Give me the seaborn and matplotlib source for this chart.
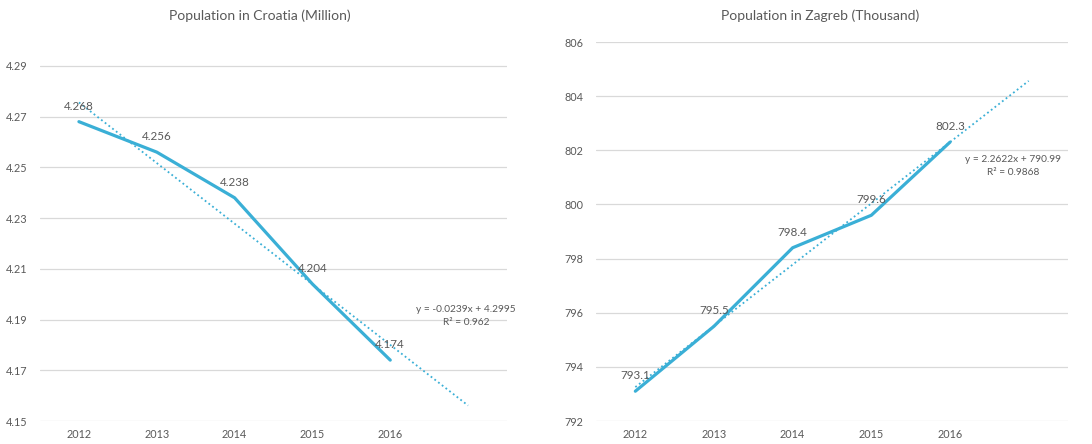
import numpy as np
import pandas as pd
import matplotlib
matplotlib.use('Agg')
import matplotlib.pyplot as plt
import seaborn as sns

years = ['2012', '2013', '2014', '2015', '2016']
croatia = [4.268, 4.256, 4.238, 4.204, 4.174]
zagreb = [793.1, 795.5, 798.4, 799.6, 802.3]

# trendline coefficients as printed on the chart (x = 1..n)
croatia_trend = [-0.0239, 4.2995]
zagreb_trend = [2.2622, 790.99]
croatia_eq = 'y = -0.0239x + 4.2995\nR² = 0.962'
zagreb_eq = 'y = 2.2622x + 790.99\nR² = 0.9868'

sns.set_theme(style='white')
plt.rcParams['font.family'] = ['Lato', 'DejaVu Sans']

line_c = '#3aafd6'
text_c = '#595959'
grid_c = '#d9d9d9'

fig = plt.figure(figsize=(10.92, 4.44), dpi=100)
ax1 = fig.add_axes([40 / 1092, 1 - 421 / 444, 467 / 1092, 380.5 / 444])
ax2 = fig.add_axes([596 / 1092, 1 - 421 / 444, 472 / 1092, 379 / 444])


def draw(ax, vals, trend, eq, title, ylim, yticks, fmt, title_x, eq_xy):
    df = pd.DataFrame({'i': np.arange(len(vals)), 'v': vals})
    sns.lineplot(data=df, x='i', y='v', ax=ax, color=line_c, lw=2.3, zorder=3)

    # forecast forward one period
    k, b = trend
    tx = np.array([0, len(vals)])
    ax.plot(tx, k * (tx + 1) + b, color=line_c, lw=1.3, ls=(0, (1, 1.6)), zorder=2)

    for i, v in enumerate(vals):
        ax.annotate(fmt.format(v), (i, v), xytext=(0, 11), textcoords='offset points',
                    ha='center', va='center', fontsize=8.4, color=text_c, zorder=4)

    ax.text(eq_xy[0], eq_xy[1], eq, transform=fig.transFigure, ha='center',
            va='center', fontsize=7.3, color=text_c, linespacing=1.45)

    ax.set_xlim(-0.5, 5.5)
    ax.set_ylim(*ylim)
    ax.set_xticks(range(len(years)))
    ax.set_xticklabels(years)
    ax.set_yticks(yticks)
    ax.set_yticklabels([f'{t:g}' if t > 100 else f'{t:.2f}' for t in yticks])
    ax.tick_params(axis='both', length=0, labelsize=7.8, colors=text_c)
    ax.tick_params(axis='y', pad=9)
    ax.tick_params(axis='x', pad=6)
    ax.grid(axis='y', color=grid_c, lw=0.9)
    ax.set_axisbelow(True)
    ax.set_xlabel('')
    ax.set_ylabel('')
    sns.despine(ax=ax, left=True, bottom=True)
    fig.text(title_x, 1 - 16 / 444, title, ha='center', va='center', fontsize=10, color=text_c)


draw(ax1, croatia, croatia_trend, croatia_eq, 'Population in Croatia (Million)', (4.15, 4.30),
     np.round(np.arange(4.15, 4.30, 0.02), 2), '{:.3f}', 260 / 1092,
     (466 / 1092, 1 - 316 / 444))
draw(ax2, zagreb, zagreb_trend, zagreb_eq, 'Population in Zagreb (Thousand)', (792, 806),
     np.arange(792, 807, 2), '{:.1f}', 820 / 1092,
     (1013 / 1092, 1 - 166 / 444))

fig.savefig('out.png', dpi=100)
